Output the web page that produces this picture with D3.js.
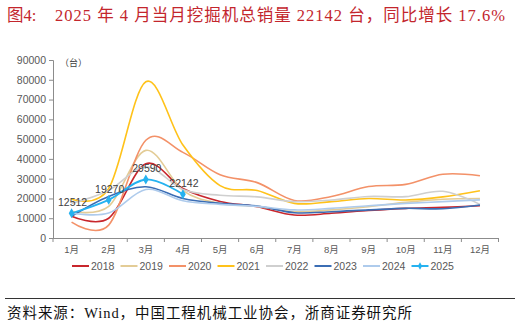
<!DOCTYPE html>
<html><head><meta charset="utf-8">
<script src="https://cdn.jsdelivr.net/npm/d3@7"></script>
<style>
html,body{margin:0;padding:0;background:#fff;}
svg{display:block;}
</style></head>
<body>
<svg id="c" width="521" height="328"></svg>
<script>
const months = ["1月","2月","3月","4月","5月","6月","7月","8月","9月","10月","11月","12月"];
const yTicks = [0,10000,20000,30000,40000,50000,60000,70000,80000,90000];
const years = ["2018","2019","2020","2021","2022","2023","2024","2025"];
const s2018 = [11000,10000,37500,25000,18500,15800,11600,12500,13900,15000,15500,16300];
const s2019 = [13500,16000,44300,24000,17500,16000,13300,14200,15800,18000,19600,20000];
const s2020 = [8000,6500,49400,43300,32000,28000,19000,21000,26000,27100,32200,31500];
const s2021 = [19600,25000,79000,47000,26500,24000,17500,18400,20000,19200,20800,23900];
const s2022 = [17500,24000,36000,24500,21600,20800,18400,19200,21000,20900,23600,17000];
const s2023 = [11000,21000,25900,20000,17500,16200,12800,13300,14200,15000,14800,16700];
const s2024 = [12500,12600,24500,18800,17000,16000,14200,15000,16300,17500,18400,19300];
const s2025 = [12512,19270,29590,22142];
const colors = ["#c8262c","#e3cc96","#f39168","#ffc21a","#cfcfcf","#3b6db4","#aecbec","#25b2f0"];

const seriesVals = [s2018,s2019,s2020,s2021,s2022,s2023,s2024,s2025];
const svg = d3.select("#c");

// title
svg.append("text").attr("x",7).attr("y",21)
  .attr("font-family","'Liberation Serif','Noto Sans CJK SC',serif")
  .attr("font-size",16.5).attr("fill","#c3262d")
  .text("图4:");
svg.append("text").attr("x",55).attr("y",21)
  .attr("font-family","'Liberation Serif','Noto Sans CJK SC',serif")
  .attr("font-size",16.5).attr("fill","#c3262d")
  .attr("textLength",450).attr("lengthAdjust","spacing")
  .text("2025 年 4 月当月挖掘机总销量 22142 台，同比增长 17.6%");

const x = d3.scaleBand().domain(months).range([53,498.5]);
const y = d3.scaleLinear().domain([0,90000]).range([238,60]);
const cx = m => x(m) + x.bandwidth()/2;

// y axis
const ya = svg.append("g").attr("transform","translate(53,0)")
  .call(d3.axisLeft(y).tickValues(yTicks).tickFormat(d3.format("d")).tickSize(4).tickPadding(3));
ya.select(".domain").attr("stroke","#8c8c8c");
ya.selectAll(".tick line").attr("stroke","#8c8c8c");
ya.selectAll("text").attr("font-family","'Liberation Sans',Arial,sans-serif").attr("font-size",10.5).attr("fill","#595959");

// x axis
const xa = svg.append("g").attr("transform","translate(0,238)")
  .call(d3.axisBottom(x).tickSize(0).tickPadding(8));
xa.select(".domain").attr("stroke","#8c8c8c").attr("d","M53,0.5H498.5");
xa.selectAll("text").attr("font-family","'Liberation Sans','Noto Sans CJK SC',sans-serif").attr("font-size",9.5).attr("fill","#595959");
const bounds = months.map(m => x(m)).concat([x.range()[1]]);
xa.selectAll(".btick").data(bounds).enter().append("line")
  .attr("x1",d=>d).attr("x2",d=>d).attr("y1",0).attr("y2",4).attr("stroke","#8c8c8c");

// unit
svg.append("text").attr("x",60).attr("y",66)
  .attr("font-family","'Noto Sans CJK SC',sans-serif").attr("font-size",9).attr("fill","#404040")
  .text("（台）");

// lines
const line = d3.line().x((d,i)=>cx(months[i])).y(d=>y(d)).curve(d3.curveCardinal.tension(0));
const g = svg.append("g");
seriesVals.forEach((vals,k)=>{
  g.append("path").datum(vals).attr("d",line).attr("fill","none")
    .attr("stroke",colors[k]).attr("stroke-width",k===7?1.8:1.6);
});
const sym = d3.symbol().type(d3.symbolDiamond).size(28);
g.selectAll(".mk").data(s2025).enter().append("path")
  .attr("transform",(d,i)=>`translate(${cx(months[i])},${y(d)})`)
  .attr("d",sym).attr("fill",colors[7]);
g.selectAll(".lb").data(s2025).enter().append("text")
  .attr("x",(d,i)=>cx(months[i])+1).attr("y",d=>y(d)-7)
  .attr("text-anchor","middle").attr("font-family","'Liberation Sans',Arial,sans-serif")
  .attr("font-size",10.5).attr("fill","#404040").text(d=>d);

// legend
const lg = svg.append("g").attr("transform","translate(72,266)");
years.forEach((yr,k)=>{
  const gx = k*48.5;
  lg.append("line").attr("x1",gx).attr("x2",gx+17).attr("y1",0).attr("y2",0)
    .attr("stroke",colors[k]).attr("stroke-width",2);
  if(k===7) lg.append("path").attr("transform",`translate(${gx+8.5},0)`).attr("d",d3.symbol().type(d3.symbolDiamond).size(16)).attr("fill",colors[k]);
  lg.append("text").attr("x",gx+19).attr("y",3.8)
    .attr("font-family","'Liberation Sans',Arial,sans-serif").attr("font-size",10.5).attr("fill","#595959").text(yr);
});

// separator and source
svg.append("line").attr("x1",5).attr("x2",515).attr("y1",298.5).attr("y2",298.5).attr("stroke","#333").attr("stroke-width",1);
svg.append("text").attr("x",7).attr("y",318)
  .attr("font-family","'Liberation Serif','Noto Sans CJK SC',serif").attr("font-size",14.5).attr("fill","#111")
  .attr("textLength",405).attr("lengthAdjust","spacing")
  .text("资料来源：Wind，中国工程机械工业协会，浙商证券研究所");
</script>
</body></html>
